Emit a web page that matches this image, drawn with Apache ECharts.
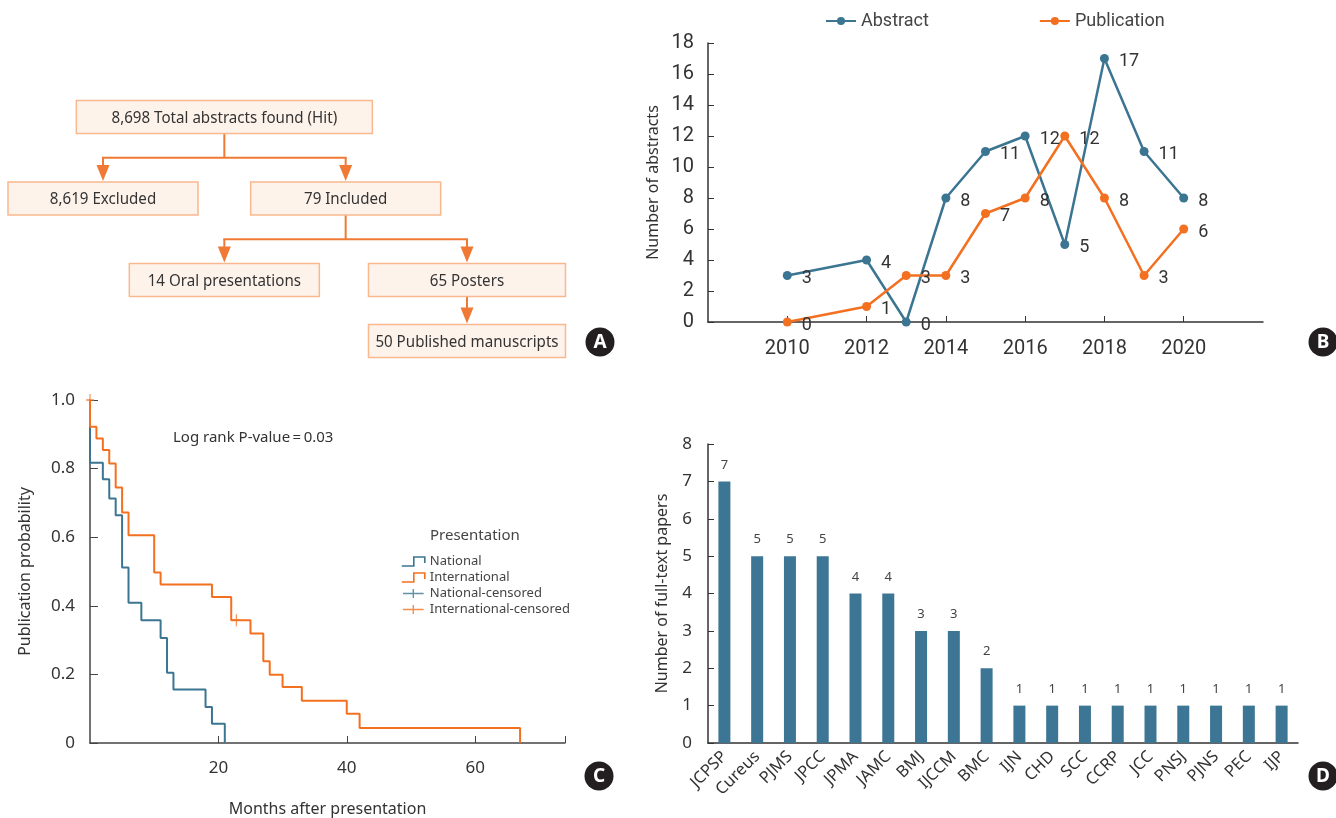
<!DOCTYPE html>
<html><head><meta charset="utf-8">
<script src="https://cdn.jsdelivr.net/npm/echarts@6/dist/echarts.min.js"></script>
<style>html,body{margin:0;padding:0;background:#fff}#c{width:1336px;height:818px}</style>
</head><body><div id="c"></div>
<script>
// ---------- Panel A: flow diagram ----------
const flowLabels = ['8,698 Total abstracts found (Hit)', '8,619 Excluded', '79 Included', '14 Oral presentations', '65 Posters', '50 Published manuscripts'];
const flowParents = [-1, 0, 0, 2, 2, 4];
// ---------- Panel B: abstracts vs publications by year ----------
const years = [2010, 2012, 2013, 2014, 2015, 2016, 2017, 2018, 2019, 2020];
const abstractCounts = [3, 4, 0, 8, 11, 12, 5, 17, 11, 8];
const publicationCounts = [0, 1, 3, 3, 7, 8, 12, 8, 3, 6];
const yearTicks = [2010, 2012, 2014, 2016, 2018, 2020];
// ---------- Panel C: Kaplan-Meier ----------
const natTimes = [0, 0, 2, 3, 4, 5, 6, 8, 11, 12, 13, 18, 19, 21];
const natSurv = [1, 0.817, 0.769, 0.713, 0.664, 0.512, 0.409, 0.358, 0.306, 0.205, 0.156, 0.105, 0.056, 0];
const intTimes = [0, 0, 1, 2, 3, 4, 5, 6, 10, 11, 19, 22, 25, 27, 28, 30, 33, 40, 42, 67];
const intSurv = [1, 0.922, 0.888, 0.854, 0.815, 0.745, 0.672, 0.606, 0.497, 0.462, 0.426, 0.358, 0.319, 0.238, 0.199, 0.163, 0.123, 0.085, 0.044, 0];
const natCensorTimes = [];
const natCensorSurv = [];
const intCensorTimes = [0, 22.8];
const intCensorSurv = [1, 0.358];
const monthTicks = [20, 40, 60];
// ---------- Panel D: journals ----------
const journals = ['JCPSP', 'Cureus', 'PJMS', 'JPCC', 'JPMA', 'JAMC', 'BMJ', 'IJCCM', 'BMC', 'IJN', 'CHD', 'SCC', 'CCRP', 'JCC', 'PNSJ', 'PJNS', 'PEC', 'IJP'];
const paperCounts = [7, 5, 5, 5, 4, 4, 3, 3, 2, 1, 1, 1, 1, 1, 1, 1, 1, 1];

// ---------- styling / layout ----------
const BLUE = '#3b7592', ORANGE = '#f37021', TXT = '#333', AX = '#333';
const NARROW = "'Roboto','Noto Sans',sans-serif";
const REG = "'Noto Sans','Open Sans',sans-serif";
const flowLayout = { col: [1, 0, 2, 1, 3, 3], row: [0, 1, 1, 2, 2, 2.75], w: [296, 190, 190, 190, 197, 197], h: 33 };
const FLOW_LINE = '#f07a35', FLOW_FILL = '#fef3eb', FLOW_BORDER = '#f9b88e';

const zip = (a, b) => a.map((v, i) => [v, b[i]]);
const STEP_ICON = 'path://M0,9L12,9L12,0L23,0L23,6';
const PLUS_ICON = 'path://M0,5L23,5M11.5,0L11.5,10';
const PLUS_SYM = 'path://M0,6L8,6M4,0L4,12';

function flowRender(params, api) {
  const i = api.value(2);
  const c = api.coord([api.value(0), api.value(1)]);
  const h = flowLayout.h, w = flowLayout.w[i];
  const out = [];
  const kids = [];
  flowParents.forEach((p, k) => { if (p === i) kids.push(k); });
  const ls = { stroke: FLOW_LINE, lineWidth: 2 };
  const AH = 16, AW = 6.5;
  const arrow = (x, top) => {
    out.push({ type: 'polygon', shape: { points: [[x - AW, top - AH], [x + AW, top - AH], [x, top]] }, style: { fill: FLOW_LINE } });
  };
  if (kids.length) {
    const kc = kids.map(k => api.coord([flowLayout.col[k], flowLayout.row[k]]));
    const bottom = c[1] + h / 2;
    if (kids.length > 1) {
      const midY = (c[1] + kc[0][1]) / 2;
      out.push({ type: 'line', shape: { x1: c[0], y1: bottom, x2: c[0], y2: midY }, style: ls });
      const xs = kc.map(p => p[0]);
      out.push({ type: 'line', shape: { x1: Math.min(...xs) - 1, y1: midY, x2: Math.max(...xs) + 1, y2: midY }, style: ls });
      kc.forEach(p => {
        const top = p[1] - h / 2 - 1;
        out.push({ type: 'line', shape: { x1: p[0], y1: midY, x2: p[0], y2: top - AH + 2 }, style: ls });
        arrow(p[0], top);
      });
    } else {
      const p = kc[0];
      const top = p[1] - h / 2 - 1;
      out.push({ type: 'line', shape: { x1: c[0], y1: bottom, x2: p[0], y2: top - AH + 2 }, style: ls });
      arrow(p[0], top);
    }
  }
  out.push({ type: 'rect', shape: { x: c[0] - w / 2, y: c[1] - h / 2, width: w, height: h }, style: { fill: FLOW_FILL, stroke: FLOW_BORDER, lineWidth: 1.5 } });
  out.push({ type: 'text', x: c[0], y: c[1] + 1, scaleX: 0.89, scaleY: 1,
    style: { x: 0, y: 0, text: flowLabels[i], align: 'center', verticalAlign: 'middle', textAlign: 'center', textVerticalAlign: 'middle', fill: TXT, font: '17px ' + REG } });
  return { type: 'group', children: out };
}

function badge(letter, x, y) {
  return { type: 'group', children: [
    { type: 'circle', shape: { cx: x, cy: y, r: 14.5 }, style: { fill: '#231f20' } },
    { type: 'text', style: { x: x, y: y + 1, text: letter, align: 'center', verticalAlign: 'middle', fill: '#fff', font: 'bold 19px ' + REG } }
  ] };
}

const chart = echarts.init(document.getElementById('c'), null, { renderer: 'canvas' });
chart.setOption({
  animation: false,
  backgroundColor: '#fff',
  grid: [
    { left: 708, right: 73, top: 43, bottom: 496, outerBoundsMode: 'none' },   // B
    { left: 90, right: 771, top: 400, bottom: 75, outerBoundsMode: 'none' },   // C
    { left: 708, width: 590, top: 444, bottom: 75, outerBoundsMode: 'none' },  // D
    { left: 103, width: 364, top: 117, height: 224, outerBoundsMode: 'none' }  // A
  ],
  legend: [
    { data: ['Abstract', 'Publication'], left: 825, top: 12, padding: 0, itemWidth: 30, itemHeight: 10, itemGap: 110,
      textStyle: { fontFamily: NARROW, fontSize: 18, color: '#444' }, selectedMode: false },
    { data: [
        { name: 'National', icon: STEP_ICON, itemStyle: { color: 'rgba(0,0,0,0)', borderColor: BLUE, borderWidth: 1.6 } },
        { name: 'International', icon: STEP_ICON, itemStyle: { color: 'rgba(0,0,0,0)', borderColor: ORANGE, borderWidth: 1.6 } },
        { name: 'National-censored', icon: PLUS_ICON, itemStyle: { color: 'rgba(0,0,0,0)', borderColor: BLUE, borderWidth: 1.4 } },
        { name: 'International-censored', icon: PLUS_ICON, itemStyle: { color: 'rgba(0,0,0,0)', borderColor: ORANGE, borderWidth: 1.4 } }
      ],
      orient: 'vertical', left: 401, top: 555, padding: 0, itemWidth: 23, itemHeight: 9, itemGap: 3,
      textStyle: { fontFamily: REG, fontSize: 13, lineHeight: 13, color: '#444' }, selectedMode: false }
  ],
  xAxis: [
    { gridIndex: 0, type: 'value', min: 2008, max: 2022, interval: 2,
      axisLine: { lineStyle: { color: AX, width: 1.5 } },
      axisTick: { inside: true, length: 6, lineStyle: { color: AX }, customValues: yearTicks },
      axisLabel: { customValues: yearTicks, margin: 17, color: TXT, fontFamily: NARROW, fontSize: 20, formatter: v => String(v) },
      splitLine: { show: false } },
    { gridIndex: 1, type: 'value', min: 0, max: 74,
      name: 'Months after presentation', nameLocation: 'middle', nameGap: 58,
      nameTextStyle: { fontFamily: REG, fontSize: 16, color: TXT },
      axisLine: { lineStyle: { color: '#444', width: 1.5 } },
      axisTick: { inside: true, length: 7, lineStyle: { color: '#444' }, customValues: [20, 40, 60, 74] },
      axisLabel: { customValues: monthTicks, margin: 17, color: TXT, fontFamily: REG, fontSize: 17 },
      splitLine: { show: false } },
    { gridIndex: 2, type: 'category', data: journals, boundaryGap: true,
      axisLine: { lineStyle: { color: AX, width: 1.5 } },
      axisTick: { show: false },
      axisLabel: { interval: 0, rotate: 45, margin: 11, color: TXT, fontFamily: REG, fontSize: 16.5 } },
    { gridIndex: 3, type: 'value', min: 0, max: 3, show: false }
  ],
  yAxis: [
    { gridIndex: 0, type: 'value', min: 0, max: 18, interval: 2,
      name: 'Number of abstracts', nameLocation: 'middle', nameGap: 47,
      nameTextStyle: { fontFamily: REG, fontSize: 16, color: TXT },
      axisLine: { show: true, lineStyle: { color: AX, width: 1.5 } },
      axisTick: { show: true, inside: true, length: 6, lineStyle: { color: AX } },
      axisLabel: { margin: 14, color: TXT, fontFamily: NARROW, fontSize: 20 },
      splitLine: { show: false } },
    { gridIndex: 1, type: 'value', min: 0, max: 1, interval: 0.2,
      name: 'Publication probability', nameLocation: 'middle', nameGap: 57,
      nameTextStyle: { fontFamily: REG, fontSize: 16, color: TXT },
      axisLine: { show: true, lineStyle: { color: '#444', width: 1.5 } },
      axisTick: { show: true, inside: true, length: 8, lineStyle: { color: '#444' } },
      axisLabel: { margin: 15, color: TXT, fontFamily: REG, fontSize: 17, formatter: v => (v === 0 ? '0' : v.toFixed(1)) },
      splitLine: { show: false } },
    { gridIndex: 2, type: 'value', min: 0, max: 8, interval: 1,
      name: 'Number of full-text papers', nameLocation: 'middle', nameGap: 38,
      nameTextStyle: { fontFamily: REG, fontSize: 16, color: TXT },
      axisLine: { show: true, lineStyle: { color: AX, width: 1.5 } },
      axisTick: { show: true, inside: true, length: 6, lineStyle: { color: AX } },
      axisLabel: { margin: 16, color: TXT, fontFamily: REG, fontSize: 17 },
      splitLine: { show: false } },
    { gridIndex: 3, type: 'value', min: 0, max: 2.75, inverse: true, show: false }
  ],
  series: [
    { name: 'Abstract', type: 'line', xAxisIndex: 0, yAxisIndex: 0, data: zip(years, abstractCounts),
      symbol: 'circle', symbolSize: 9, color: BLUE, lineStyle: { width: 2.5, color: BLUE }, itemStyle: { color: BLUE },
      label: { show: true, position: 'right', distance: 10, offset: [0, 3], color: TXT, fontFamily: NARROW, fontSize: 18 } },
    { name: 'Publication', type: 'line', xAxisIndex: 0, yAxisIndex: 0, data: zip(years, publicationCounts),
      symbol: 'circle', symbolSize: 9, color: ORANGE, lineStyle: { width: 2.5, color: ORANGE }, itemStyle: { color: ORANGE },
      label: { show: true, position: 'right', distance: 10, offset: [0, 3], color: TXT, fontFamily: NARROW, fontSize: 18 } },
    { name: 'National', type: 'line', xAxisIndex: 1, yAxisIndex: 1, data: zip(natTimes, natSurv), step: 'end',
      showSymbol: false, symbol: 'none', color: BLUE, lineStyle: { width: 2, color: BLUE } },
    { name: 'International', type: 'line', xAxisIndex: 1, yAxisIndex: 1, data: zip(intTimes, intSurv), step: 'end',
      showSymbol: false, symbol: 'none', color: ORANGE, lineStyle: { width: 2, color: ORANGE } },
    { name: 'National-censored', type: 'scatter', xAxisIndex: 1, yAxisIndex: 1, data: zip(natCensorTimes, natCensorSurv),
      symbol: PLUS_SYM, symbolSize: [8, 12], color: BLUE, itemStyle: { color: 'rgba(0,0,0,0)', borderColor: BLUE, borderWidth: 1.4 } },
    { name: 'International-censored', type: 'scatter', xAxisIndex: 1, yAxisIndex: 1, data: zip(intCensorTimes, intCensorSurv),
      symbol: PLUS_SYM, symbolSize: [8, 12], color: ORANGE, itemStyle: { color: 'rgba(0,0,0,0)', borderColor: ORANGE, borderWidth: 1.4 } },
    { name: 'papers', type: 'bar', xAxisIndex: 2, yAxisIndex: 2, data: paperCounts, barWidth: 12,
      itemStyle: { color: '#3d7694' },
      label: { show: true, position: 'top', distance: 10, color: '#444', fontFamily: REG, fontSize: 13 } },
    { name: 'flow', type: 'custom', xAxisIndex: 3, yAxisIndex: 3, clip: false,
      data: flowLabels.map((l, i) => [flowLayout.col[i], flowLayout.row[i], i]),
      encode: { x: 0, y: 1 }, renderItem: flowRender, silent: true }
  ],
  graphic: [
    { type: 'text', left: 173, top: 430, style: { text: 'Log rank P-value\u2009=\u20090.03', fill: TXT, font: '15px ' + REG } },
    { type: 'text', left: 430, top: 528, style: { text: 'Presentation', fill: '#444', font: '15px ' + REG } },
    badge('A', 600, 342), badge('B', 1323, 342), badge('C', 599, 776), badge('D', 1323, 776)
  ]
});
</script></body></html>
